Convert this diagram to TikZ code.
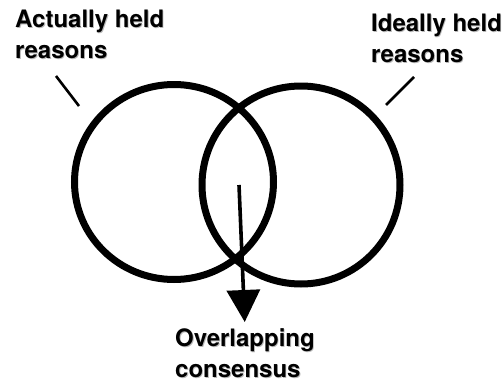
\documentclass[tikz,border=0pt]{standalone}
\usepackage{fontspec}
\setmainfont{TeX Gyre Heros}
\usepackage{xcolor}
\usetikzlibrary{arrows.meta,positioning,calc}
\newcommand{\shtxt}[1]{\rlap{\kern0.9pt\raisebox{-1.1pt}{\color{black!28}#1}}#1}

\begin{document}
\begin{tikzpicture}[
    x=1pt, y=-1pt,
    ring/.style={draw=black, line width=7pt},
    tick/.style={draw=black, line width=2.6pt},
    caption/.style={anchor=north west, inner sep=0pt, align=left, font=\fontsize{24}{31}\selectfont\bfseries},
    downarrow/.style={draw=black, line width=3.6pt, -{Triangle[width=33pt,length=32pt]}}
]
\useasboundingbox (0,0) rectangle (504,383);

% the two overlapping circles
\coordinate (actc) at (174,182);
\coordinate (idlc) at (301,185);
\draw[ring] (actc) ellipse [x radius=99.5, y radius=97.5];
\draw[ring] (idlc) ellipse [x radius=99, y radius=99];

% labels
\node[caption] (act) at (15,10) {\shtxt{Actually held}\\\shtxt{reasons}};
\node[caption] (idl) at (371,14) {\shtxt{Ideally held}\\\shtxt{reasons}};
\node[caption] (ovl) at (175,328) {\shtxt{Overlapping}\\\shtxt{consensus}};

% pointer ticks
\coordinate (acta) at (56,76);
\coordinate (actb) at (79,106);
\coordinate (idla) at (414,77);
\coordinate (idlb) at (386,105);
\draw[tick] (acta) -- (actb);
\draw[tick] (idla) -- (idlb);

% arrow out of the overlap
\coordinate (ovls) at (239,185);
\draw[downarrow, shorten >=6pt] (ovls) -- (ovl.north);
\end{tikzpicture}
\end{document}
